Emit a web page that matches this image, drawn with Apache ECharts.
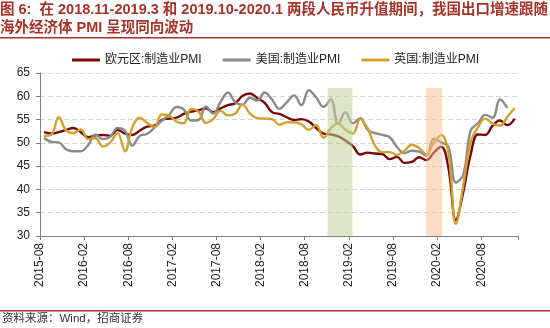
<!DOCTYPE html>
<html>
<head>
<meta charset="utf-8">
<script src="https://cdn.jsdelivr.net/npm/echarts@6/dist/echarts.min.js"></script>
<style>
html,body{margin:0;padding:0;background:#fff;}
#chart{width:550px;height:328px;}
</style>
</head>
<body>
<div id="chart"></div>
<script>
// Monthly data, first month 2015-08
const titleLine1 = '图 6:  在 2018.11-2019.3 和 2019.10-2020.1 两段人民币升值期间，我国出口增速跟随';
const titleLine2 = '海外经济体 PMI 呈现同向波动';
const sourceText = '资料来源：Wind，招商证券';
const seriesNames = ['欧元区:制造业PMI', '美国:制造业PMI', '英国:制造业PMI'];
const tickLabels = ['2015-08','2016-02','2016-08','2017-02','2017-08','2018-02','2018-08','2019-02','2019-08','2020-02','2020-08'];

const euroPMI = [52.3,52.0,52.3,52.8,53.2,
  52.3,51.2,51.6,51.7,51.5,52.8,52.0,51.7,52.6,53.5,53.7,54.9,
  55.2,55.4,56.2,56.7,57.0,57.4,56.6,57.4,58.1,58.5,60.1,60.6,
  59.6,58.6,56.6,56.2,55.5,54.9,55.1,54.6,53.2,52.0,51.8,51.4,
  50.5,49.3,47.5,47.9,47.7,47.6,46.5,47.0,45.7,45.9,46.9,46.3,
  47.9,49.2,44.5,33.4,39.4,47.4,51.8,51.7,53.7,54.8,53.8,55.2];
const usPMI = [51.1,50.2,50.1,48.6,48.2,
  48.2,49.5,51.8,50.8,51.3,53.2,52.6,49.4,51.5,51.9,53.2,54.7,
  56.0,57.7,57.2,54.8,54.9,57.8,56.3,58.8,60.8,58.7,58.2,59.7,
  59.1,60.8,59.3,57.3,58.7,60.2,58.1,61.3,59.8,57.7,59.3,54.1,
  56.6,54.2,55.3,52.8,52.1,51.7,51.2,49.1,47.8,48.3,48.1,47.2,
  50.9,50.1,49.1,41.5,43.1,52.6,54.2,56.0,55.4,59.3,57.5];
const ukPMI = [51.5,51.8,55.5,52.7,52.1,
  52.9,50.8,51.0,49.2,50.1,52.1,48.2,53.3,55.4,54.3,53.4,56.1,
  55.9,54.6,54.2,57.3,56.7,54.3,55.1,56.9,55.9,56.3,58.2,56.3,
  55.3,55.2,55.1,53.9,54.4,54.4,54.0,52.8,53.8,51.1,53.1,54.2,
  52.8,52.0,55.1,53.1,49.4,48.0,48.0,47.4,48.3,49.6,48.9,47.5,
  50.0,51.7,47.8,32.6,40.7,50.1,53.3,55.2,54.1,53.7,55.6,57.5];
// Appreciation periods (month index from 2015-08, as shaded in the source)
const shadePeriods = [[39.1, 42.5], [52.5, 54.7]];
const shadeTop = 61.8;

const midMonth = 0.55;
const toPoints = arr => arr.map((v, i) => [i + midMonth, v]);

const colors = ['#7a0505', '#8a8a8a', '#cfa22e'];
const shadeColors = ['rgba(191,209,151,0.55)', 'rgba(247,185,139,0.5)'];
const fontLatin = '"Liberation Sans","Noto Sans CJK SC",sans-serif';

const chart = echarts.init(document.getElementById('chart'), null, {renderer: 'canvas'});
const lineSeries = [euroPMI, usPMI, ukPMI].map((arr, k) => ({
  name: seriesNames[k],
  type: 'line',
  data: toPoints(arr),
  smooth: 0.4,
  symbol: 'none',
  lineStyle: {width: 2.4, color: colors[k]},
  itemStyle: {color: colors[k]},
  z: 2 + k
}));

lineSeries.push({
  name: 'shade',
  type: 'line',
  data: [],
  symbol: 'none',
  markArea: {
    silent: true,
    z: 10,
    data: shadePeriods.map((p, i) => [
      {xAxis: p[0], yAxis: 30, itemStyle: {color: shadeColors[i]}},
      {xAxis: p[1], yAxis: shadeTop}
    ])
  }
});

chart.setOption({
  animation: false,
  color: colors,
  grid: {left: 40, right: 32, top: 73, bottom: 92},
  legend: {
    data: seriesNames,
    left: 67,
    top: 49,
    icon: 'rect',
    itemWidth: 28,
    itemHeight: 3,
    itemGap: 21,
    textStyle: {fontSize: 12, color: '#222', fontFamily: fontLatin}
  },
  xAxis: {
    type: 'value',
    min: 0,
    max: 65,
    interval: 6,
    axisLine: {show: true, lineStyle: {color: '#808080', width: 1}},
    axisTick: {show: true, length: 4, lineStyle: {color: '#808080'}},
    splitLine: {show: false},
    axisLabel: {
      rotate: 90,
      fontSize: 12,
      color: '#222',
      margin: 7,
      fontFamily: fontLatin,
      formatter: v => tickLabels[Math.round(v / 6)] || ''
    }
  },
  yAxis: {
    type: 'value',
    min: 30,
    max: 65,
    interval: 5,
    axisLine: {show: true, lineStyle: {color: '#808080', width: 1}},
    axisTick: {show: true, length: 4, lineStyle: {color: '#808080'}},
    splitLine: {show: true, lineStyle: {color: '#d4d4d4', type: [5, 3], width: 1}},
    axisLabel: {fontSize: 12, color: '#222', margin: 10, fontFamily: fontLatin}
  },
  graphic: [
    {type: 'text', left: 0, top: 3, style: {text: titleLine1, font: 'bold 14.5px ' + fontLatin, fill: '#a5332a'}},
    {type: 'text', left: 0, top: 21, style: {text: titleLine2, font: 'bold 14.5px ' + fontLatin, fill: '#a5332a'}},
    {type: 'rect', shape: {x: 0, y: 37, width: 550, height: 1.6}, style: {fill: '#a5332a'}},
    {type: 'rect', shape: {x: 0, y: 310, width: 550, height: 1.6}, style: {fill: '#a5332a'}},
    {type: 'text', left: 2, top: 313, style: {text: sourceText, font: '11.5px ' + fontLatin, fill: '#333'}}
  ],
  series: lineSeries
});
</script>
</body>
</html>
